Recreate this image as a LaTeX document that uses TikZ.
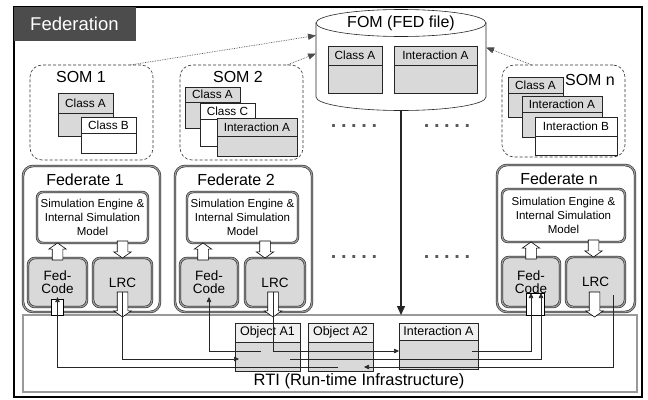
\documentclass[tikz,border=0pt]{standalone}
\usepackage{fontspec}
\setmainfont{Liberation Sans}
\usetikzlibrary{arrows.meta,shapes.arrows,calc}
\newcommand{\clsbox}[9]{%
  \node[clsh, fill=#7, minimum width=#4pt, minimum height=#5pt, anchor=north west] (#1h) at (#2,#3) {#9};
  \node[clsb, fill=#8, minimum width=#4pt, minimum height=#6pt, anchor=north west] (#1b) at (#1h.south west) {};}
\newcommand{\fivedots}{.\hspace{4.6pt}.\hspace{4.6pt}.\hspace{4.6pt}.\hspace{4.6pt}.}
\tikzset{
  dbl/.style={draw=black!90, line width=0.5pt, double=black!40, double distance=1.4pt},
  fedbox/.style={dbl, fill=white, rounded corners=10pt, inner sep=0pt, outer sep=0pt},
  simbox/.style={dbl, fill=white, rounded corners=6pt, inner sep=0pt, outer sep=0pt, align=center, font=\fontsize{11.5}{14}\selectfont},
  fcbox/.style={dbl, fill=gray!30, rounded corners=7pt, inner sep=0pt, outer sep=0pt, align=center, font=\fontsize{13.5}{13}\selectfont},
  sombox/.style={draw=black!80, densely dashed, line width=0.6pt, rounded corners=12pt, inner sep=0pt, outer sep=0pt},
  clsh/.style={draw=black!85, line width=0.5pt, inner sep=0pt, outer sep=0pt, font=\fontsize{11.8}{12}\selectfont},
  clsb/.style={draw=black!85, line width=0.5pt, inner sep=0pt, outer sep=0pt},
  bigtext/.style={font=\fontsize{16}{18}\selectfont, inner sep=0pt},
  barrow/.style={single arrow, draw=black, fill=white, line width=0.6pt, inner xsep=0pt, inner ysep=5pt, minimum width=17pt, single arrow head extend=3.5pt, single arrow tip angle=110, outer sep=0pt},
  shaftbox/.style={draw=black, fill=white, line width=0.6pt, inner sep=0pt, outer sep=0pt},
  conn/.style={draw=black!85, line width=0.6pt, -{Triangle[length=5pt,width=4.5pt]}},
  plain/.style={draw=black!85, line width=0.6pt},
  dotarr/.style={draw=black!70, line width=0.7pt, densely dotted, -{Triangle[length=8pt,width=6pt]}},
  fomarr/.style={draw=black!85, line width=1.4pt, -{Triangle[length=9pt,width=8pt]}},
  dotsrow/.style={font=\bfseries\fontsize{20}{20}\selectfont, text=black!65, inner sep=0pt},
}
\begin{document}
\begin{tikzpicture}[x=1pt,y=-1pt]
\useasboundingbox (0,0) rectangle (648,399);
% frame and title
\node[draw=black, line width=1.2pt, minimum width=628pt, minimum height=390pt, anchor=north west, inner sep=0pt, outer sep=0pt] (frame) at (14,7) {};
\node[fill=black!70, minimum width=122pt, minimum height=34pt, anchor=north west, inner sep=0pt, outer sep=0pt] (fedlab) at (14,7) {};
\node[anchor=west, text=white, font=\fontsize{18.5}{20}\selectfont, inner sep=0pt] (fedtxt) at (30,24) {Federation};
% SOM 1
\node[sombox, minimum width=123pt, minimum height=95pt, anchor=north west] (som1) at (30,65) {};
\node[bigtext] (som1t) at (81,77) {SOM 1};
\clsbox{s1a}{58}{93}{55}{20}{23}{gray!30}{gray!30}{Class A}
\clsbox{s1b}{81}{117}{55}{16}{20}{white}{white}{Class B}
% SOM 2
\node[sombox, minimum width=123pt, minimum height=95pt, anchor=north west] (som2) at (180,65) {};
\node[bigtext] (som2t) at (238,77) {SOM 2};
\clsbox{s2a}{185}{87}{55}{15}{26}{gray!30}{gray!30}{Class A}
\clsbox{s2c}{200}{103}{55}{16}{27}{white}{white}{Class C}
\clsbox{s2i}{217}{118}{80}{18}{20}{gray!30}{gray!30}{Interaction A}
% SOM n
\node[sombox, minimum width=123pt, minimum height=92pt, anchor=north west] (somn) at (502,65) {};
\clsbox{sna}{508}{77}{55}{16}{24}{gray!30}{gray!30}{Class A}
\clsbox{sni}{522}{96}{80}{16}{25}{gray!30}{gray!30}{Interaction A}
\clsbox{snb}{535}{117}{82}{19}{19}{white}{white}{Interaction B}
\node[bigtext] (somnt) at (590,80) {SOM n};
% FOM
\node[minimum width=170pt, minimum height=101.5pt, anchor=north west, inner sep=0pt, outer sep=0pt] (fom) at (316,9.5) {};
\draw[plain, fill=white] ($(fom.north west)+(0,13.5)$) -- ++(0,74) arc[start angle=180, end angle=360, x radius=85pt, y radius=13.5pt] -- ++(0,-74) -- cycle;
\draw[plain, fill=white] ($(fom.north)+(0,13.5)$) ellipse [x radius=85pt, y radius=13.5pt];
\node[bigtext] (fomt) at ($(fom.north)+(0,13.5)$) {FOM (FED file)};
\clsbox{fa}{328}{46}{54}{19}{28}{gray!30}{gray!30}{Class A}
\clsbox{fi}{394}{46}{83}{19}{28}{gray!30}{gray!30}{Interaction A}
% SOM -> FOM
\draw[dotarr] ($(som1.north west)+(100,0)$) -- ($(fom.north west)+(0,26)$);
\draw[dotarr] ($(som2.north east)+(-16,0)$) -- ($(fom.north west)+(0,44)$);
\draw[dotarr] ($(somn.north west)+(30,0)$) -- ($(fom.north east)+(0,38)$);
% Federate 1
\node[fedbox, minimum width=137pt, minimum height=146pt, anchor=north west] (fed1) at (23,166) {};
\node[bigtext] (fed1t) at (85,180) {Federate 1};
\node[simbox, minimum width=111pt, minimum height=51pt, anchor=north west] (sim1) at (37,192) {Simulation Engine \&\\Internal Simulation\\Model};
\node[fcbox, minimum width=59pt, minimum height=49pt, anchor=north west] (fc1) at (28,258) {Fed-\\Code};
\node[fcbox, minimum width=59pt, minimum height=49pt, anchor=north west] (lrc1) at (93,258) {LRC};
% Federate 2
\node[fedbox, minimum width=137pt, minimum height=146pt, anchor=north west] (fed2) at (175,166) {};
\node[bigtext] (fed2t) at (236,180) {Federate 2};
\node[simbox, minimum width=111pt, minimum height=51pt, anchor=north west] (sim2) at (187,192) {Simulation Engine \&\\Internal Simulation\\Model};
\node[fcbox, minimum width=58pt, minimum height=49pt, anchor=north west] (fc2) at (180,258) {Fed-\\Code};
\node[fcbox, minimum width=60pt, minimum height=49pt, anchor=north west] (lrc2) at (245,258) {LRC};
% Federate n
\node[fedbox, minimum width=138pt, minimum height=147pt, anchor=north west] (fedn) at (497,165) {};
\node[bigtext] (fednt) at (559,179) {Federate n};
\node[simbox, minimum width=123pt, minimum height=53pt, anchor=north west] (simn) at (502,189) {Simulation Engine \&\\Internal Simulation\\Model};
\node[fcbox, minimum width=58pt, minimum height=50pt, anchor=north west] (fcn) at (502,257) {Fed-\\Code};
\node[fcbox, minimum width=59pt, minimum height=50pt, anchor=north west] (lrcn) at (566,257) {LRC};
% block arrows inside federates
\node[barrow, rotate=90, anchor=tip, minimum height=17pt] (u1) at (fc1.north |- sim1.south) {};
\node[barrow, rotate=-90, anchor=tip, minimum height=17pt] (d1) at (lrc1.north) {};
\node[barrow, rotate=90, anchor=tip, minimum height=17pt] (u2) at ($(fc2.north |- sim2.south)+(-6,0)$) {};
\node[barrow, rotate=-90, anchor=tip, minimum height=17pt] (d2) at ($(lrc2.north)+(-10,0)$) {};
\node[barrow, rotate=90, anchor=tip, minimum height=17pt] (un) at (fcn.north |- simn.south) {};
\node[barrow, rotate=-90, anchor=tip, minimum height=17pt] (dn) at ($(lrcn.north)+(-2,0)$) {};
% RTI
\node[dbl, fill=white, minimum width=614pt, minimum height=77pt, anchor=north west, inner sep=0pt, outer sep=0pt] (rti) at (23,315) {};
\node[font=\fontsize{16.5}{18}\selectfont, inner sep=0pt] (rtit) at (359,381) {RTI (Run-time Infrastructure)};
\clsbox{a1}{235}{323}{65}{19}{29}{gray!12}{gray!30}{\fontsize{12.5}{13}\selectfont Object A1}
\clsbox{a2}{308}{323}{65}{19}{29}{gray!12}{gray!30}{\fontsize{12.5}{13}\selectfont Object A2}
\clsbox{ia}{399}{323}{79}{17}{29}{gray!12}{gray!30}{\fontsize{12.5}{13}\selectfont Interaction A}
% arrows between federates and RTI
\node[shaftbox, minimum width=12pt, minimum height=16pt, anchor=south] (sh1) at (fc1.south |- rti.north) {};
\node[shaftbox, minimum width=18pt, minimum height=22pt, anchor=south] (shn) at ($(fcn.south |- rti.north)+(4,0)$) {};
\node[barrow, rotate=-90, anchor=tail, minimum height=25pt] (db1) at ($(lrc1.south)+(0,-15)$) {};
\node[barrow, rotate=-90, anchor=tail, minimum height=25pt] (db2) at ($(lrc2.south)+(-2,-15)$) {};
\node[barrow, rotate=-90, anchor=tail, minimum height=25pt] (dbn) at ($(lrcn.south)+(-1,-15)$) {};
\coordinate (L1) at (0,351);
\coordinate (L2) at (0,359);
\coordinate (L3) at (0,367);
\draw[conn] (db1.tail) -- (db1.tail |- L2) -- ($(a1b.west |- L2)+(4,0)$);
\draw[conn] ($(a1b.west |- L1)+(26,0)$) -- (fc2.south |- L1) -- ($(fc2.south)+(0,-10)$);
\draw[conn] (db2.tail) -- (db2.tail |- L1) -- (iab.west |- L1);
\draw[conn] ($(a1b.east |- L2)+(-10,0)$) -- ($(fcn.south |- L2)+(10,0)$) -- ($(fcn.south)+(10,-14)$);
\draw[conn] ($(iab.east |- L1)+(-6,0)$) -- (fcn.south |- L1) -- ($(fcn.south)+(0,-14)$);
\draw[conn] ($(lrcn.south)+(18,-12)$) -- ($(lrcn.south |- L3)+(18,0)$) -- ($(a2b.east |- L3)+(-9,0)$);
\draw[conn] ($(a2b.west |- L3)+(30,0)$) -- (fc1.south |- L3) -- ($(fc1.south)+(0,-10)$);
% FOM -> RTI
\draw[fomarr] (fom.south) -- (fom.south |- rti.north);
% dots
\node[dotsrow] (dt1) at (354,126) {\fivedots};
\node[dotsrow] (dt2) at (447,126) {\fivedots};
\node[dotsrow] (dt3) at (354,257) {\fivedots};
\node[dotsrow] (dt4) at (447,257) {\fivedots};
\end{tikzpicture}
\end{document}
